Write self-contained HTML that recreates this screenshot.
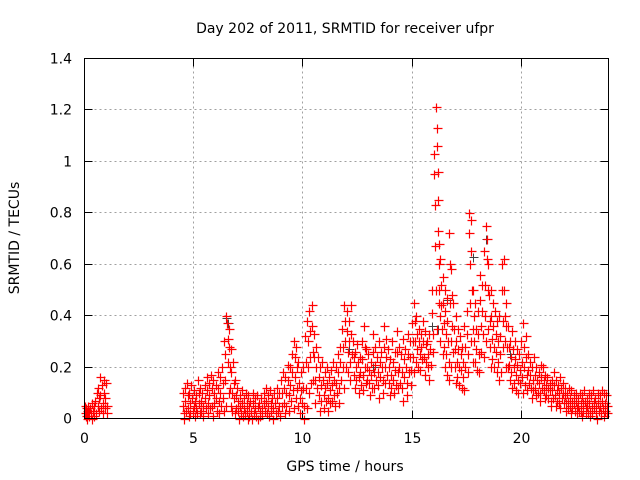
<!DOCTYPE html>
<html><head><meta charset="utf-8"><style>
html,body{margin:0;padding:0;background:#fff}
svg{display:block;font-family:"DejaVu Sans","Liberation Sans",sans-serif}
</style></head><body>
<svg id="chart" width="640" height="480">
<text x="345" y="33" font-size="14" text-anchor="middle">Day 202 of 2011, SRMTID for receiver ufpr</text>
<text x="345" y="471" font-size="14" text-anchor="middle">GPS time / hours</text>
<text transform="translate(19,238) rotate(-90)" font-size="14" text-anchor="middle">SRMTID / TECUs</text>
<g id="grid" shape-rendering="crispEdges"></g>
<g id="ticks"></g>
<g id="gray"></g>
<g id="red"></g>
<rect x="84.5" y="58.5" width="524" height="360" fill="none" stroke="#000" stroke-width="1" shape-rendering="crispEdges"/>
</svg>
<script>
const xTicks = [0, 5, 10, 15, 20];
const yTicks = [0, 0.2, 0.4, 0.6, 0.8, 1, 1.2, 1.4];
const yTickLabels = ["0", "0.2", "0.4", "0.6", "0.8", "1", "1.2", "1.4"];
const grayPoints = [[6.5,.39],[6.55,.37],[15.9,.36],[16.2,.35],[17.8,.63],[18.4,.7],[13.2,.2],[19.5,.25],[16.6,.46],[12.1,.27]];
const redSamples = [
[0.0,.05,.02,.01,.04],[0.1,.03,.0,.02,.05],[0.2,.01,.03,.04],[0.3,.02,.0,.06],[0.4,.03,.05,.01],[0.5,.07,.02,.1],[0.6,.12,.05,.08,.03],[0.7,.16,.09,.04],[0.8,.13,.06,.02,.1],[0.9,.15,.08,.04],[1.0,.14,.05,.02],
[4.5,.1,.05,.02,.0],[4.6,.12,.07,.03],[4.7,.14,.09,.04,.01],[4.8,.1,.06,.02],[4.9,.13,.08,.03],[5.0,.11,.05,.01,.07],[5.1,.09,.04,.02],[5.2,.15,.1,.06,.02],[5.3,.12,.07,.03],[5.4,.1,.05,.01],[5.5,.13,.08,.04],[5.6,.16,.11,.06,.02],[5.7,.14,.09,.04],[5.8,.17,.12,.05,.01],[5.9,.15,.1,.06],[6.0,.13,.08,.03],[6.1,.18,.12,.07,.02],[6.2,.16,.1,.05],[6.3,.2,.14,.08,.03],[6.4,.3,.25,.15,.05],[6.5,.4,.37,.31,.22,.1],[6.6,.35,.28,.2,.12,.05],[6.7,.27,.18,.1,.03],[6.8,.22,.14,.08,.02],[6.9,.15,.09,.04],
[7.0,.12,.07,.03,.0],[7.1,.09,.05,.02],[7.2,.11,.06,.01],[7.3,.08,.04,.02],[7.4,.1,.06,.03,.0],[7.5,.09,.05,.01],[7.6,.07,.03,.0],[7.7,.1,.06,.02],[7.8,.08,.04,.01],[7.9,.09,.05,.0],[8.0,.06,.03,.01],[8.1,.08,.04,.02],[8.2,.1,.06,.03],[8.3,.12,.07,.02],[8.4,.09,.05,.01],[8.5,.11,.06,.03],[8.6,.08,.04,.0],[8.7,.1,.06,.02],[8.8,.12,.08,.03],[8.9,.1,.05,.01],
[9.0,.15,.1,.05],[9.1,.18,.12,.06,.02],[9.2,.16,.1,.05],[9.3,.21,.15,.09,.03],[9.4,.2,.13,.07],[9.5,.25,.18,.11,.04],[9.6,.3,.24,.16,.08],[9.7,.28,.2,.12,.05],[9.8,.22,.14,.08,.02],[9.9,.18,.11,.06],
[10.0,.2,.12,.05,.0],[10.1,.32,.22,.12,.04],[10.2,.38,.3,.2,.1],[10.3,.42,.34,.24,.14],[10.4,.44,.36,.26,.15],[10.5,.33,.24,.15,.06],[10.6,.28,.2,.12],[10.7,.24,.16,.09,.03],[10.8,.2,.13,.07],[10.9,.22,.15,.09,.04],
[11.0,.18,.12,.07],[11.1,.2,.14,.08,.03],[11.2,.16,.11,.06],[11.3,.19,.13,.07],[11.4,.22,.15,.09,.05],[11.5,.2,.14,.1],[11.6,.25,.18,.12,.06],[11.7,.28,.22,.15],[11.8,.35,.28,.2,.12],[11.9,.44,.38,.3,.2],
[12.0,.42,.34,.26,.18],[12.1,.38,.3,.22,.15],[12.2,.44,.33,.25],[12.3,.3,.24,.17,.12],[12.4,.26,.2,.15],[12.5,.29,.22,.16,.1],[12.6,.24,.18,.13],[12.7,.3,.23,.17,.11],[12.8,.36,.28,.2,.14],[12.9,.27,.2,.15],
[13.0,.25,.19,.14,.09],[13.1,.22,.17,.12],[13.2,.33,.26,.18,.12],[13.3,.28,.21,.15],[13.4,.24,.18,.13,.08],[13.5,.3,.22,.16],[13.6,.26,.2,.15,.1],[13.7,.36,.28,.2,.14],[13.8,.31,.24,.17],[13.9,.27,.2,.14,.09],
[14.0,.23,.17,.12],[14.1,.3,.22,.15,.1],[14.2,.26,.19,.13],[14.3,.34,.26,.18,.12],[14.4,.28,.2,.14],[14.5,.25,.18,.12,.07],[14.6,.31,.23,.16],[14.7,.27,.2,.14,.09],[14.8,.33,.25,.18],[14.9,.3,.24,.19,.13],
[15.0,.37,.3,.24,.18],[15.1,.45,.38,.3,.22],[15.2,.4,.33,.27,.2],[15.3,.35,.3,.25,.19],[15.4,.33,.28,.23],[15.5,.38,.3,.24,.17],[15.6,.34,.29,.22],[15.7,.3,.25,.2,.15],[15.8,.33,.27,.21],[15.9,.5,.41,.33,.26],
[16.0,1.03,.95,.83,.67,.5,.35],[16.1,1.21,1.13,1.06,.96,.85,.68,.45],[16.2,.73,.6,.5,.4,.3],[16.3,.62,.52,.44,.35,.25],[16.4,.55,.45,.37,.28,.2],[16.5,.5,.42,.33,.25,.17],[16.6,.47,.38,.3,.22,.15],[16.7,.72,.6,.45,.3,.2],[16.8,.58,.48,.36,.26],[16.9,.45,.35,.27,.2,.14],
[17.0,.4,.3,.22,.16],[17.1,.35,.27,.2,.13],[17.2,.32,.25,.19,.12],[17.3,.28,.22,.16,.11],[17.4,.36,.28,.2],[17.5,.42,.33,.25,.18],[17.6,.8,.72,.6,.45,.3],[17.7,.77,.65,.5,.35,.22],[17.8,.5,.4,.3,.22],[17.9,.45,.35,.27,.19],
[18.0,.42,.33,.25,.18],[18.1,.56,.46,.36,.26],[18.2,.52,.42,.33,.24],[18.3,.65,.52,.4,.3],[18.4,.75,.7,.62,.5,.35],[18.5,.6,.48,.38,.28,.2],[18.6,.5,.4,.31,.23],[18.7,.45,.36,.28,.2],[18.8,.42,.33,.26,.18],[18.9,.38,.3,.22,.15],
[19.0,.4,.32,.25,.18],[19.1,.6,.5,.38,.28],[19.2,.62,.5,.4,.3,.2],[19.3,.45,.36,.28,.2],[19.4,.36,.28,.21,.15],[19.5,.3,.24,.18,.12],[19.6,.34,.27,.2,.14],[19.7,.3,.23,.17,.11],[19.8,.27,.21,.15,.1],[19.9,.25,.19,.14],
[20.0,.3,.22,.16,.1],[20.1,.37,.28,.2,.13],[20.2,.32,.24,.17,.11],[20.3,.25,.19,.14],[20.4,.22,.17,.12,.08],[20.5,.2,.15,.11],[20.6,.24,.17,.12,.09],[20.7,.2,.15,.1],[20.8,.18,.14,.1,.07],[20.9,.21,.16,.12],
[21.0,.2,.15,.11,.08],[21.1,.17,.13,.09],[21.2,.16,.12,.08],[21.3,.14,.11,.07,.05],[21.4,.15,.11,.08],[21.5,.18,.13,.09,.05],[21.6,.15,.11,.07],[21.7,.13,.1,.06,.04],[21.8,.16,.12,.08],[21.9,.14,.1,.06],
[22.0,.12,.09,.06,.03],[22.1,.1,.07,.04],[22.2,.12,.08,.05,.02],[22.3,.11,.07,.04],[22.4,.09,.06,.03],[22.5,.1,.07,.04,.02],[22.6,.08,.05,.03],[22.7,.1,.06,.03,.01],[22.8,.09,.06,.03],[22.9,.11,.07,.04,.02],
[23.0,.08,.05,.02],[23.1,.1,.06,.03,.01],[23.2,.09,.05,.02],[23.3,.11,.07,.04],[23.4,.08,.05,.02,.0],[23.5,.1,.06,.03],[23.6,.09,.05,.02],[23.7,.11,.07,.04,.01],[23.8,.1,.06,.03],[23.9,.09,.05,.02]
];
const NS = "http://www.w3.org/2000/svg";
const X0 = 84.5, X1 = 608.5, Y0 = 418.5, Y1 = 58.5;
function xs(t){ return X0 + (t/24)*(X1-X0); }
function ys(v){ return Y0 - (v/1.4)*(Y0-Y1); }
function mk(tag, attrs, parent){ const e=document.createElementNS(NS,tag); for(const k in attrs) e.setAttribute(k,attrs[k]); parent.appendChild(e); return e; }
const grid=document.getElementById('grid'), ticks=document.getElementById('ticks');
yTicks.forEach((v,i)=>{
  const y=Math.round(ys(v)-0.5)+0.5;
  if(i>0 && i<yTicks.length-1){
    const g=mk('line',{x1:X0,x2:X1,y1:y,y2:y,stroke:'#a0a0a0','stroke-dasharray':'2,3'},grid);
    
    
  }
  const t=mk('path',{d:`M${X0} ${y}h8M${X1} ${y}h-8`,stroke:'#000','shape-rendering':'crispEdges'},ticks);
  
  
  const l=mk('text',{x:72,y:y+5,'font-size':14,'text-anchor':'end'},ticks);
  l.textContent=yTickLabels[i];
  
  
});
xTicks.forEach(v=>{
  const x=Math.round(xs(v)-0.5)+0.5;
  if(v>0){
    const g=mk('line',{x1:x,x2:x,y1:Y0,y2:Y1,stroke:'#a0a0a0','stroke-dasharray':'2,3'},grid);
    
    
  }
  const t=mk('path',{d:`M${x} ${Y0}v-8M${x} ${Y1}v8`,stroke:'#000','shape-rendering':'crispEdges'},ticks);
  
  
  const l=mk('text',{x:x,y:443,'font-size':14,'text-anchor':'middle'},ticks);
  l.textContent=String(v);
  
  
});
function plus(x,y){ const px=Math.round(x)+0.5, py=Math.round(y)+0.5; return `M${px-4} ${py}h9M${px} ${py-4}v9`; }
let gd='';
grayPoints.forEach(p=>{ gd+=plus(xs(p[0]),ys(p[1])); });
const gp=mk('path',{d:gd,stroke:'#404040','stroke-width':1,fill:'none'},document.getElementById('gray'));


let rd='';
redSamples.forEach(row=>{
  const t=row[0];
  for(let i=1;i<row.length;i++){
    rd+=plus(xs(t+(i-1)*0.025),ys(row[i]));
  }
});
const rp=mk('path',{d:rd,stroke:'#ff0000','stroke-width':1.2,fill:'none'},document.getElementById('red'));


</script>
</body></html>
